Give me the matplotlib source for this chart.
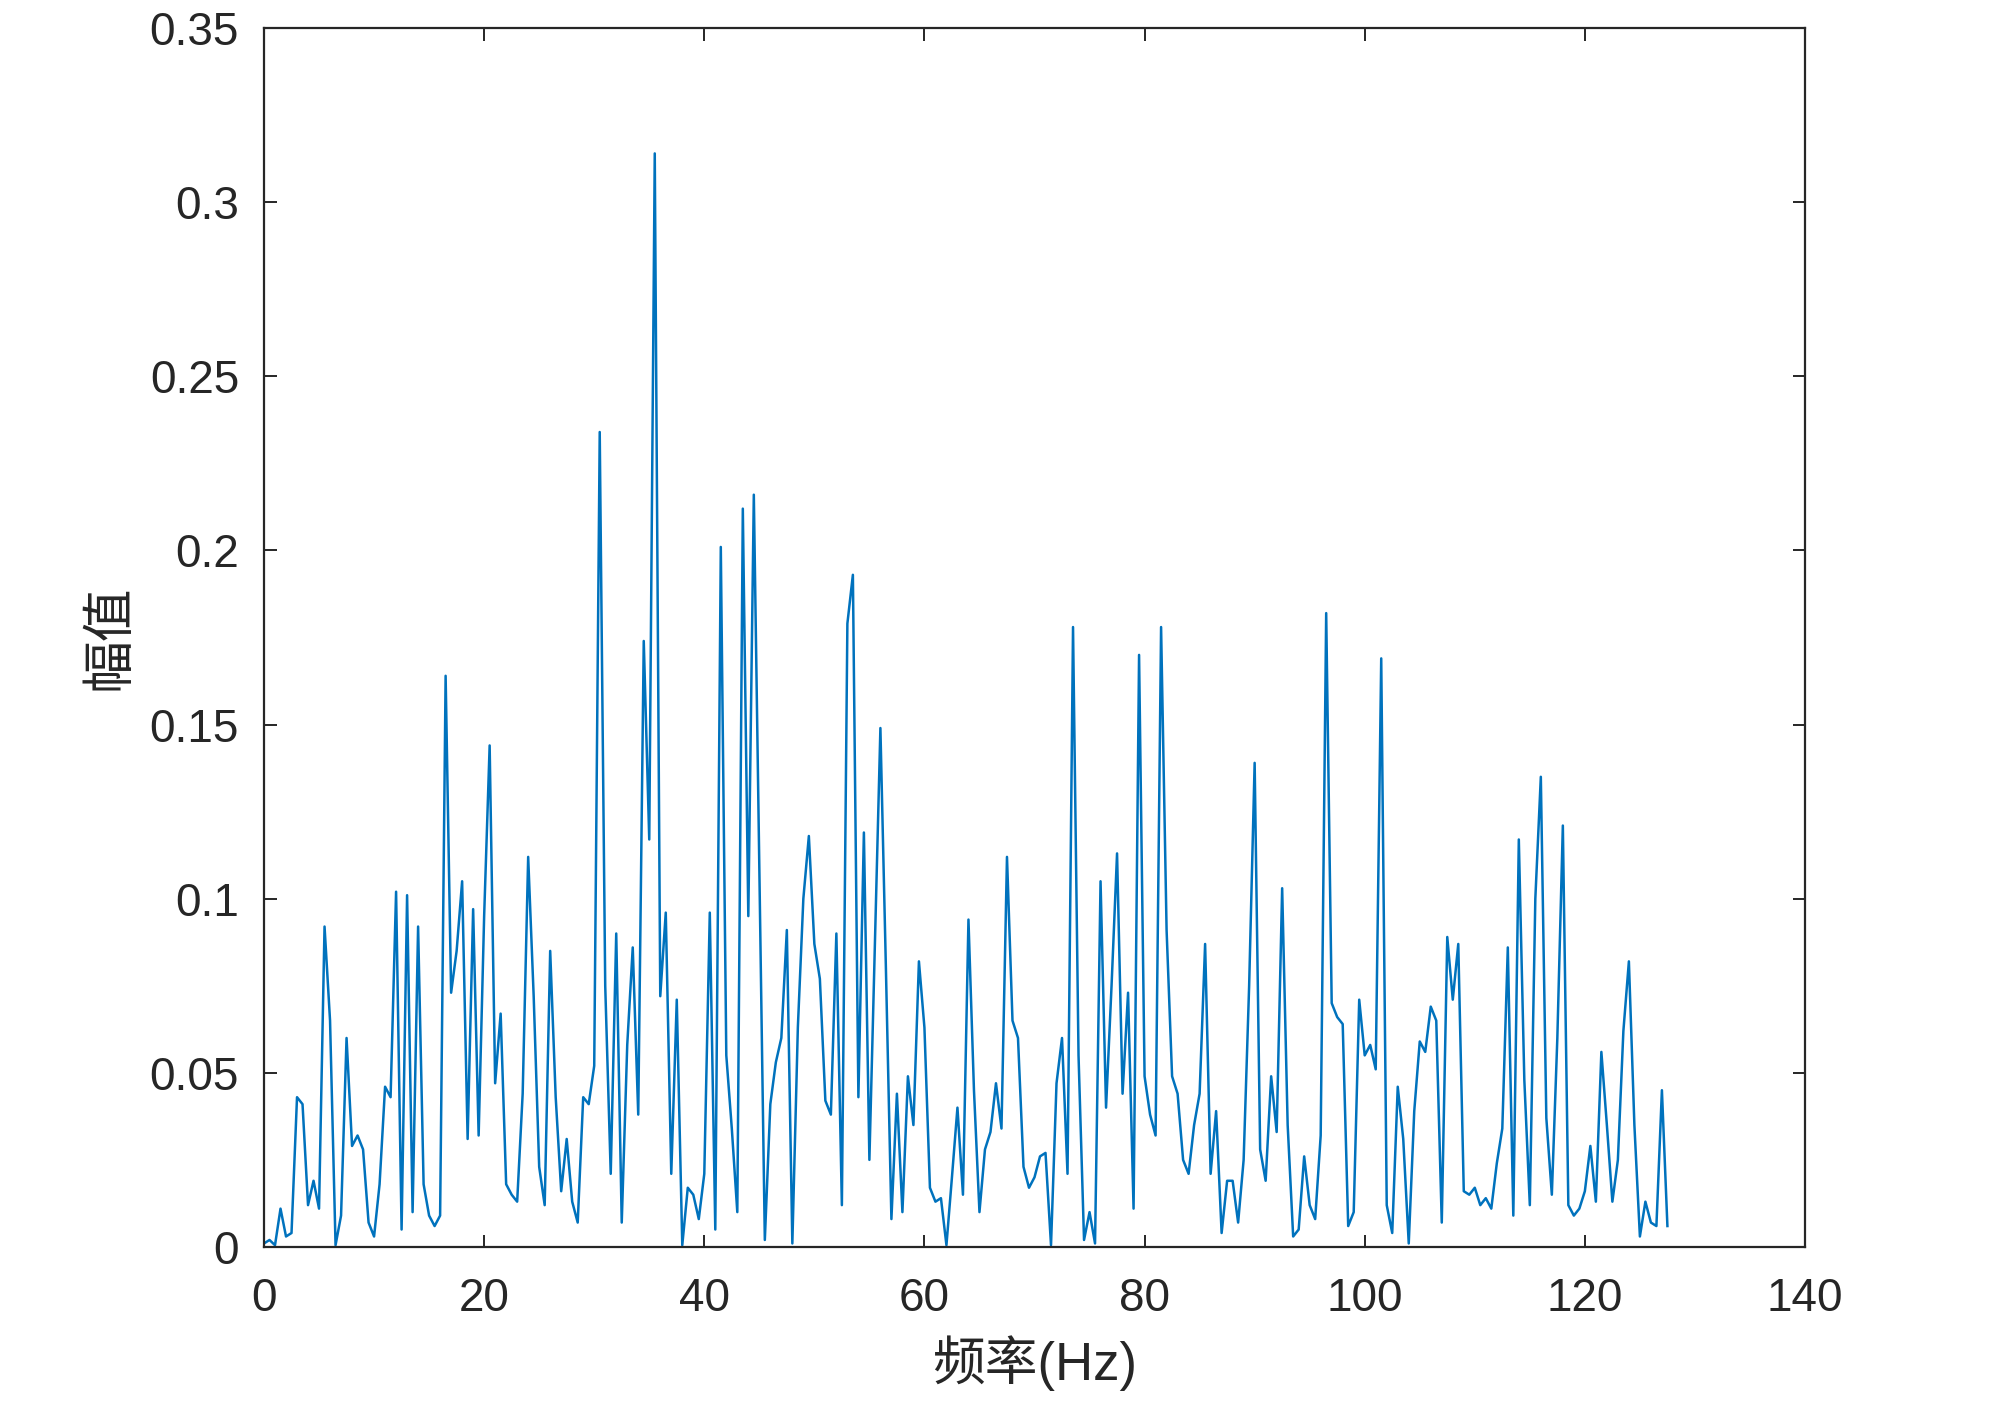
import numpy as np
import matplotlib
matplotlib.use("Agg")
import matplotlib.pyplot as plt

# single-sided amplitude spectrum, 0.5 Hz resolution
df = 0.5
amplitude = [
    0.001, 0.002, 0.0005, 0.011, 0.003, 0.004, 0.043, 0.041, 0.012, 0.019,
    0.011, 0.092, 0.065, 0.0005, 0.009, 0.060, 0.029, 0.032, 0.028, 0.007,
    0.003, 0.018, 0.046, 0.043, 0.102, 0.005, 0.101, 0.010, 0.092, 0.018,
    0.009, 0.006, 0.009, 0.164, 0.073, 0.085, 0.105, 0.031, 0.097, 0.032,
    0.095, 0.144, 0.047, 0.067, 0.018, 0.015, 0.013, 0.044, 0.112, 0.072,
    0.023, 0.012, 0.085, 0.043, 0.016, 0.031, 0.013, 0.007, 0.043, 0.041,
    0.052, 0.234, 0.075, 0.021, 0.090, 0.007, 0.058, 0.086, 0.038, 0.174,
    0.117, 0.314, 0.072, 0.096, 0.021, 0.071, 0.0005, 0.017, 0.015, 0.008,
    0.021, 0.096, 0.005, 0.201, 0.055, 0.034, 0.010, 0.212, 0.095, 0.216,
    0.110, 0.002, 0.041, 0.053, 0.060, 0.091, 0.001, 0.063, 0.100, 0.118,
    0.087, 0.077, 0.042, 0.038, 0.090, 0.012, 0.179, 0.193, 0.043, 0.119,
    0.025, 0.087, 0.149, 0.080, 0.008, 0.044, 0.010, 0.049, 0.035, 0.082,
    0.063, 0.017, 0.013, 0.014, 0.0005, 0.020, 0.040, 0.015, 0.094, 0.045,
    0.010, 0.028, 0.033, 0.047, 0.034, 0.112, 0.065, 0.060, 0.023, 0.017,
    0.020, 0.026, 0.027, 0.0005, 0.047, 0.060, 0.021, 0.178, 0.055, 0.002,
    0.010, 0.001, 0.105, 0.040, 0.075, 0.113, 0.044, 0.073, 0.011, 0.170,
    0.049, 0.038, 0.032, 0.178, 0.091, 0.049, 0.044, 0.025, 0.021, 0.035,
    0.044, 0.087, 0.021, 0.039, 0.004, 0.019, 0.019, 0.007, 0.025, 0.075,
    0.139, 0.028, 0.019, 0.049, 0.033, 0.103, 0.035, 0.003, 0.005, 0.026,
    0.012, 0.008, 0.032, 0.182, 0.070, 0.066, 0.064, 0.006, 0.010, 0.071,
    0.055, 0.058, 0.051, 0.169, 0.012, 0.004, 0.046, 0.031, 0.001, 0.039,
    0.059, 0.056, 0.069, 0.065, 0.007, 0.089, 0.071, 0.087, 0.016, 0.015,
    0.017, 0.012, 0.014, 0.011, 0.024, 0.034, 0.086, 0.009, 0.117, 0.048,
    0.012, 0.100, 0.135, 0.037, 0.015, 0.060, 0.121, 0.012, 0.009, 0.011,
    0.016, 0.029, 0.013, 0.056, 0.035, 0.013, 0.025, 0.062, 0.082, 0.035,
    0.003, 0.013, 0.007, 0.006, 0.045, 0.006,
]
freq = np.arange(len(amplitude)) * df

x_ticks = [0, 20, 40, 60, 80, 100, 120, 140]
y_ticks = [0, 0.05, 0.1, 0.15, 0.2, 0.25, 0.3, 0.35]
y_tick_labels = ["0", "0.05", "0.1", "0.15", "0.2", "0.25", "0.3", "0.35"]

FONTS = ["Liberation Sans", "Noto Sans CJK SC", "DejaVu Sans"]
plt.rcParams["font.family"] = FONTS

fig = plt.figure(figsize=(10, 7.01), dpi=200)
ax = fig.add_axes([0.132, 0.1106, 0.7705, 0.8694])
ax.plot(freq, amplitude, color="#0072BD", linewidth=0.9)

ax.set_xlim(0, 140)
ax.set_ylim(0, 0.35)
ax.set_xticks(x_ticks)
ax.set_yticks(y_ticks)
ax.set_yticklabels(y_tick_labels)
ax.tick_params(direction="in", length=4.5, width=0.7, top=True, right=True,
               labelsize=16.5, colors="#262626", pad=9)
ax.tick_params(axis="x", pad=11)
for sp in ax.spines.values():
    sp.set_linewidth(0.8)
    sp.set_color("#262626")

ax.set_xlabel("频率(Hz)", fontsize=19, color="#262626", labelpad=5)
ax.set_ylabel("幅值", fontsize=19, color="#262626", labelpad=5)

fig.savefig("out.png", dpi=200)
